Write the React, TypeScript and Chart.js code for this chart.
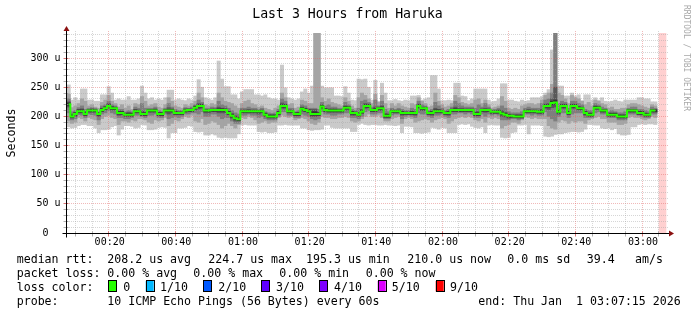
import React, { useEffect, useRef } from "react";
import { Chart, registerables } from "chart.js";

Chart.register(...registerables);

// ---------- data (microseconds), one column per minute ----------
const TITLE = "Last 3 Hours from Haruka";
const Y_TITLE = "Seconds";
const WATERMARK = "RRDTOOL / TOBI OETIKER";

const X_MIN = 7.5; // minutes after 00:00 at left edge
const X_MAX = 187.5;
const FIRST_MINUTE = 8;
const Y_MAX = 343;
const BAND_START = 185; // pink "unknown" band
const BAND_END = 187.3;

const med = [
  221,200,204,209,209,204,210,210,210,204,
  211,214,218,214,214,206,206,203,203,203,
  209,209,204,204,210,210,210,204,204,210,
  210,210,206,206,206,210,211,211,215,218,
  218,210,210,211,211,211,211,211,206,201,
  197,195,209,209,209,209,209,209,209,203,
  200,200,200,206,218,218,209,209,204,204,
  213,211,209,204,204,204,217,211,210,210,
  210,210,210,215,215,206,206,203,208,218,
  218,211,211,214,214,201,201,209,209,209,
  206,206,206,206,206,218,214,214,206,206,
  209,209,209,206,206,211,211,211,211,211,
  211,211,204,204,211,211,211,208,208,208,
  205,203,201,201,200,200,200,209,209,209,
  209,208,208,218,218,223,224,208,218,218,
  206,218,218,214,214,206,203,203,215,215,
  210,210,203,203,203,200,200,200,210,210,
  210,206,206,203,203,210,210,
];

const p1 = [
  182,180,181,184,186,186,184,184,180,172,
  177,177,178,182,184,168,178,184,184,183,
  180,181,186,185,177,177,178,181,182,181,
  163,172,172,180,180,181,184,183,174,173,
  174,168,168,170,168,164,163,164,163,163,
  163,170,185,186,185,185,185,174,173,174,
  172,172,173,185,185,186,185,185,185,185,
  180,180,177,176,177,177,178,185,185,181,
  180,180,180,180,180,174,174,186,188,186,
  185,186,186,185,185,186,185,185,184,185,
  172,183,183,182,172,172,171,172,173,181,
  180,178,181,180,172,172,172,186,187,186,
  187,183,181,180,182,172,185,186,185,185,
  164,163,164,172,173,185,185,186,170,185,
  185,185,184,166,165,166,169,170,170,172,
  173,174,174,173,174,178,186,186,185,185,
  180,179,180,177,179,170,168,168,169,182,
  182,186,187,186,187,187,186,
];

const p2 = [
  192,188,190,198,196,192,198,196,194,186,
  196,200,202,198,196,186,192,192,190,194,
  192,196,196,194,190,188,194,192,194,198,
  184,188,194,192,196,200,198,202,192,190,
  196,186,188,192,190,186,180,184,188,184,
  180,186,198,196,200,198,194,188,190,192,
  188,190,190,198,202,200,198,200,194,196,
  198,196,192,188,186,190,200,198,198,196,
  196,198,198,200,198,192,190,192,196,200,
  204,200,200,202,198,192,192,196,198,200,
  188,196,198,196,190,192,194,196,194,190,
  194,196,198,196,188,192,196,198,200,198,
  200,198,194,192,196,190,198,196,198,196,
  180,184,186,190,190,188,194,200,198,196,
  198,196,196,196,184,180,178,190,194,192,
  188,192,190,192,192,188,194,196,198,200,
  196,196,190,190,190,186,186,188,198,200,
  198,198,196,194,196,200,198,
];

const p3 = [
  206,194,196,203,202,198,204,203,202,194,
  204,206,210,206,204,198,198,196,196,198,
  202,202,200,198,202,202,204,198,198,204,
  196,198,200,198,200,204,204,206,206,204,
  208,200,200,204,204,200,196,198,198,192,
  188,188,202,202,204,202,202,198,200,196,
  194,194,194,200,208,208,202,202,198,198,
  204,202,200,196,194,196,208,204,204,202,
  202,204,204,206,206,198,198,196,200,208,
  210,204,204,206,206,196,196,202,204,204,
  196,200,202,200,198,206,204,204,200,198,
  202,202,204,200,198,204,204,206,206,204,
  206,204,198,198,204,200,204,202,204,202,
  194,194,194,196,196,194,196,204,204,202,
  204,202,202,208,200,196,192,200,206,206,
  198,204,206,206,206,198,198,198,206,208,
  204,204,198,198,198,194,194,194,204,204,
  204,202,200,198,198,204,204,
];

const p4 = [
  216,197,200,206,206,201,207,207,207,200,
  208,211,214,211,211,202,203,200,200,200,
  206,206,202,201,207,207,207,201,201,207,
  204,206,203,203,203,207,208,208,211,213,
  214,206,206,208,208,206,206,206,203,197,
  192,192,206,206,206,206,206,204,206,200,
  197,197,197,203,214,214,206,206,201,201,
  209,208,206,200,200,201,213,208,207,207,
  207,207,207,211,211,202,202,200,205,214,
  215,208,208,210,210,198,198,206,206,206,
  202,203,203,203,202,214,210,210,203,202,
  206,206,206,203,202,208,208,208,208,208,
  208,208,201,201,208,207,208,205,205,205,
  200,199,197,198,198,197,197,206,206,206,
  206,205,205,214,212,215,216,204,214,214,
  203,214,214,211,211,202,200,200,212,212,
  207,207,200,200,200,197,197,197,207,207,
  207,203,203,200,200,207,207,
];

const p5 = [
  219,198,202,207,207,202,208,208,208,202,
  209,212,216,212,212,204,204,201,201,201,
  207,207,202,202,208,208,208,202,202,208,
  208,208,204,204,204,208,209,209,213,216,
  216,208,208,209,209,209,209,209,204,199,
  195,193,207,207,207,207,207,207,207,201,
  198,198,198,204,216,216,207,207,202,202,
  211,209,207,202,202,202,215,209,208,208,
  208,208,208,213,213,204,204,201,206,216,
  216,209,209,212,212,199,199,207,207,207,
  204,204,204,204,204,216,212,212,204,204,
  207,207,207,204,204,209,209,209,209,209,
  209,209,202,202,209,209,209,206,206,206,
  203,201,199,199,198,198,198,207,207,207,
  207,206,206,216,216,220,221,206,216,216,
  204,216,216,212,212,204,201,201,213,213,
  208,208,201,201,201,198,198,198,208,208,
  208,204,204,201,201,208,208,
];

const p6 = [
  223,202,206,211,211,206,211,212,211,206,
  213,216,220,216,215,208,208,205,205,205,
  211,210,206,206,211,211,212,206,206,211,
  212,212,208,207,207,211,212,212,217,220,
  220,211,211,212,212,213,213,212,208,203,
  199,197,210,210,210,210,210,210,210,205,
  202,202,202,208,220,220,210,210,206,206,
  215,213,211,208,208,206,219,213,212,212,
  212,211,211,217,216,208,207,205,210,220,
  220,212,213,215,216,203,203,210,210,210,
  208,207,207,208,207,220,215,215,207,208,
  211,211,210,207,208,212,213,212,212,212,
  212,212,206,206,212,212,212,209,209,210,
  207,205,203,202,202,202,202,210,210,210,
  210,209,210,220,220,226,228,210,220,220,
  208,220,220,216,215,208,205,205,217,216,
  211,211,205,205,205,202,202,202,211,211,
  211,208,208,205,204,211,211,
];

const p7 = [
  225,204,207,212,213,208,212,213,212,206,
  214,217,222,217,216,209,209,206,207,206,
  212,211,209,207,212,212,213,207,207,212,
  215,213,209,208,208,213,213,213,218,222,
  221,212,212,213,213,216,214,214,209,205,
  201,199,211,211,212,211,211,210,211,206,
  203,203,203,209,223,221,211,211,206,207,
  216,214,212,212,212,207,220,214,213,213,
  213,212,212,218,217,209,208,207,212,222,
  221,213,216,216,218,205,204,211,210,211,
  209,208,208,209,208,221,216,216,208,209,
  214,212,211,208,209,213,216,214,214,213,
  213,213,208,208,213,214,213,210,210,211,
  210,207,204,203,203,203,203,211,212,211,
  211,210,212,221,222,230,250,212,221,221,
  209,221,221,217,216,209,206,206,218,217,
  212,212,206,206,206,203,203,203,212,212,
  212,209,209,206,205,212,212,
];

const p8 = [
  230,208,210,215,218,212,214,215,214,208,
  218,220,226,220,218,212,212,208,210,208,
  216,214,222,214,214,214,216,210,208,214,
  222,216,212,210,210,215,214,216,220,228,
  224,214,214,216,215,226,220,218,214,210,
  206,204,214,214,216,214,214,212,214,208,
  206,205,206,212,230,226,214,214,208,210,
  220,218,214,214,214,212,224,218,220,216,
  216,214,214,224,220,212,210,214,226,228,
  224,216,228,218,226,212,208,214,212,214,
  212,210,210,214,212,226,220,218,210,212,
  224,218,214,210,212,216,226,222,218,216,
  216,216,214,220,216,222,216,212,212,214,
  218,214,208,206,206,206,208,214,216,214,
  214,214,222,228,230,240,360,222,226,224,
  214,226,226,222,220,212,210,210,222,220,
  216,214,208,210,208,206,206,208,214,216,
  216,212,212,210,208,216,214,
];

const p9 = [
  238,215,218,222,230,226,218,220,216,214,
  224,228,236,226,222,216,220,214,218,212,
  222,220,234,226,218,220,222,216,214,220,
  232,226,218,216,214,220,218,222,226,240,
  232,220,218,222,220,240,232,226,224,222,
  218,214,222,226,228,222,220,216,218,214,
  212,210,214,218,240,232,220,222,214,216,
  228,226,222,222,360,360,232,226,230,224,
  222,220,218,232,226,218,214,232,240,236,
  230,222,238,224,236,222,214,222,218,222,
  218,216,214,222,220,232,226,222,216,218,
  240,226,220,216,218,222,236,232,224,222,
  220,222,228,230,222,228,220,214,216,218,
  234,226,214,212,214,212,218,220,222,222,
  220,222,228,236,240,255,360,240,236,230,
  222,236,232,230,226,220,224,218,228,226,
  222,220,214,216,212,212,214,214,220,222,
  222,220,218,216,214,220,218,
];

const p10 = [
  254,228,232,228,247,247,228,228,226,226,
  237,237,251,240,228,230,228,228,234,228,
  228,230,252,240,230,232,228,230,228,232,
  245,245,228,230,228,227,230,228,235,263,
  250,232,230,228,232,295,264,251,251,237,
  237,230,242,246,246,246,237,237,235,237,
  232,230,230,228,288,249,232,230,228,230,
  242,247,240,252,360,360,252,249,249,249,
  235,235,234,251,240,228,227,264,263,264,
  250,228,262,226,257,240,227,227,229,227,
  226,228,227,235,235,236,228,230,232,270,
  270,247,227,227,228,227,257,257,235,234,
  227,230,247,247,247,247,228,225,226,230,
  256,256,228,228,226,225,228,226,227,232,
  232,232,234,240,246,314,360,252,252,235,
  235,240,235,237,227,237,237,228,232,228,
  232,226,225,226,228,226,225,228,228,228,
  228,232,232,230,230,225,225,
];

const minutes = med.map((_, i) => FIRST_MINUTE + i);

const yMajorTicks = [0, 50, 100, 150, 200, 250, 300];
const yTickLabels = ["0  ", "50 u", "100 u", "150 u", "200 u", "250 u", "300 u"];
const xMajorTicks = [20, 40, 60, 80, 100, 120, 140, 160, 180];
const xTickLabels = ["00:20", "00:40", "01:00", "01:20", "01:40", "02:00", "02:20", "02:40", "03:00"];

const STAT_LINE1: [number, string][] = [
  [16.7, "median rtt:"],
  [107.3, "208.2 us avg"],
  [208.3, "224.7 us max"],
  [306, "195.3 us min"],
  [407.3, "210.0 us now"],
  [507.3, "0.0 ms sd"],
  [586.7, "39.4"],
  [635, "am/s"],
];
const STAT_LINE2: [number, string][] = [
  [16.7, "packet loss:"],
  [107.3, "0.00 % avg"],
  [193.3, "0.00 % max"],
  [279.3, "0.00 % min"],
  [365.7, "0.00 % now"],
];
const lossLabels = ["0", "1/10", "2/10", "3/10", "4/10", "5/10", "9/10"];
const lossColors = ["#26ff00", "#00b8ff", "#0059ff", "#5e00ff", "#7e00ff", "#dd00ff", "#ff0000"];
const lossBoxX = [108.3, 145.7, 203.3, 261, 319.3, 377.7, 435.7];
const lossLabelX = [123.3, 160, 218.3, 276, 334, 391.7, 450];
const STAT_LINE4: [number, string][] = [
  [16.7, "probe:"],
  [107.3, "10 ICMP Echo Pings (56 Bytes) every 60s"],
  [478.3, "end: Thu Jan  1 03:07:15 2026"],
];

const smokeBands = [
  { lo: p1, hi: p10, color: "#cacaca" },
  { lo: p2, hi: p9, color: "#a4a4a4" },
  { lo: p3, hi: p8, color: "#7e7e7e" },
  { lo: p4, hi: p7, color: "#585858" },
  { lo: p5, hi: p6, color: "#323232" },
];

const FONT = "'DejaVu Sans Mono', monospace";
const GRID = "rgba(165,165,165,0.45)";
const MGRID = "rgba(225,100,100,0.45)";
const ARROW = "#8b1010";

function drawGrid(chart: any) {
  const { ctx, chartArea: a } = chart;
  const xs = chart.scales.x;
  const ys = chart.scales.y;
  ctx.save();
  ctx.lineWidth = 1;
  ctx.setLineDash([1, 1]);
  for (let v = 10; v < Y_MAX; v += 10) {
    const y = Math.floor(ys.getPixelForValue(v)) + 0.5;
    ctx.strokeStyle = v % 50 === 0 ? MGRID : GRID;
    ctx.beginPath();
    ctx.moveTo(a.left, y);
    ctx.lineTo(a.right + 1, y);
    ctx.stroke();
  }
  for (let t = 10; t < X_MAX; t += 5) {
    const x = Math.floor(xs.getPixelForValue(t)) + 0.5;
    ctx.strokeStyle = t % 20 === 0 ? MGRID : GRID;
    ctx.beginPath();
    ctx.moveTo(x, a.top - 2);
    ctx.lineTo(x, a.bottom);
    ctx.stroke();
  }
  ctx.restore();
}

function drawFrame(chart: any) {
  const { ctx, chartArea: a } = chart;
  const xs = chart.scales.x;
  const ys = chart.scales.y;
  const ax = Math.round(a.left) - 0.5;
  const ay = Math.round(a.bottom) + 0.5;
  ctx.save();
  ctx.lineWidth = 1;
  // tick marks
  for (let v = 0; v < Y_MAX; v += 10) {
    const y = Math.floor(ys.getPixelForValue(v)) + 0.5;
    ctx.strokeStyle = v % 50 === 0 ? "rgba(200,60,60,0.7)" : "rgba(140,140,140,0.7)";
    ctx.beginPath();
    ctx.moveTo(ax - 3, y);
    ctx.lineTo(ax + 2, y);
    ctx.stroke();
  }
  for (let t = 10; t < X_MAX; t += 5) {
    const x = Math.floor(xs.getPixelForValue(t)) + 0.5;
    ctx.strokeStyle = t % 20 === 0 ? "rgba(200,60,60,0.7)" : "rgba(140,140,140,0.7)";
    ctx.beginPath();
    ctx.moveTo(x, ay - 2);
    ctx.lineTo(x, ay + 3);
    ctx.stroke();
  }
  // axes
  ctx.strokeStyle = "#000";
  ctx.beginPath();
  ctx.moveTo(ax - 4, ay);
  ctx.lineTo(a.right + 2, ay);
  ctx.stroke();
  ctx.beginPath();
  ctx.moveTo(ax, ay + 4);
  ctx.lineTo(ax, a.top - 2);
  ctx.stroke();
  ctx.fillStyle = ARROW;
  ctx.beginPath();
  ctx.moveTo(ax - 3, a.top - 2);
  ctx.lineTo(ax + 3, a.top - 2);
  ctx.lineTo(ax, a.top - 7);
  ctx.closePath();
  ctx.fill();
  ctx.beginPath();
  ctx.moveTo(a.right + 2, ay - 3);
  ctx.lineTo(a.right + 2, ay + 3);
  ctx.lineTo(a.right + 7, ay);
  ctx.closePath();
  ctx.fill();

  // tick labels
  ctx.fillStyle = "#000";
  ctx.font = `10px ${FONT}`;
  ctx.textAlign = "right";
  ctx.textBaseline = "middle";
  yMajorTicks.forEach((v, i) => {
    ctx.fillText(yTickLabels[i], ax - 6, ys.getPixelForValue(v));
  });
  ctx.textAlign = "center";
  ctx.textBaseline = "alphabetic";
  xMajorTicks.forEach((t, i) => {
    ctx.fillText(xTickLabels[i], xs.getPixelForValue(t) + 1, 245);
  });

  // title
  ctx.font = `13.2px ${FONT}`;
  ctx.fillText(TITLE, 347.5, 18.3);

  // y title
  ctx.save();
  ctx.font = `11.6px ${FONT}`;
  ctx.translate(15, 133);
  ctx.rotate(-Math.PI / 2);
  ctx.textAlign = "center";
  ctx.fillText(Y_TITLE, 0, 0);
  ctx.restore();

  // watermark
  ctx.save();
  ctx.font = `8px ${FONT}`;
  ctx.fillStyle = "#a8a8a8";
  ctx.translate(683.5, 5);
  ctx.rotate(Math.PI / 2);
  ctx.textAlign = "left";
  ctx.fillText(WATERMARK, 0, 0);
  ctx.restore();

  // legend
  ctx.font = `11.6px ${FONT}`;
  ctx.textAlign = "left";
  ctx.fillStyle = "#000";
  STAT_LINE1.forEach(([x, s]) => ctx.fillText(s, x, 262.7));
  STAT_LINE2.forEach(([x, s]) => ctx.fillText(s, x, 276.8));
  ctx.fillText("loss color:", 16.7, 290.9);
  lossLabels.forEach((lab, i) => {
    ctx.fillStyle = lossColors[i];
    ctx.fillRect(lossBoxX[i], 281, 8, 10.5);
    ctx.strokeStyle = "#000";
    ctx.strokeRect(Math.round(lossBoxX[i]) + 0.5, 280.5, 8, 11);
    ctx.fillStyle = "#000";
    ctx.fillText(lab, lossLabelX[i], 290.9);
  });
  STAT_LINE4.forEach(([x, s]) => ctx.fillText(s, x, 305));
  ctx.restore();
}

const rrdPlugin = {
  id: "rrdLook",
  beforeDatasetsDraw(chart: any) {
    const { ctx, chartArea: a } = chart;
    const xs = chart.scales.x;
    const x1 = xs.getPixelForValue(BAND_START);
    const x2 = xs.getPixelForValue(BAND_END);
    ctx.save();
    ctx.fillStyle = "#ffd0d0";
    ctx.fillRect(x1, a.top, x2 - x1, a.bottom - a.top);
    ctx.restore();
  },
  afterDatasetDraw(chart: any, args: any) {
    if (args.index === smokeBands.length - 1) drawGrid(chart);
  },
  afterDraw(chart: any) {
    drawFrame(chart);
  },
};

export default function App() {
  const ref = useRef<HTMLCanvasElement | null>(null);
  useEffect(() => {
    if (!ref.current) return;
    const datasets: any[] = smokeBands.map((b, i) => ({
      type: "bar",
      data: b.lo.map((v, k) => ({ x: minutes[k], y: [v, b.hi[k]] })),
      backgroundColor: b.color,
      borderWidth: 0,
      grouped: false,
      barPercentage: 1,
      categoryPercentage: 1,
      order: smokeBands.length - i,
    }));
    datasets.push({
      type: "line",
      data: med.map((v, k) => ({ x: minutes[k], y: v })),
      borderColor: "#26ff00",
      borderWidth: 2,
      pointRadius: 0,
      stepped: "middle",
      fill: false,
      order: 0,
    });
    const chart = new Chart(ref.current, {
      type: "bar",
      data: { datasets },
      options: {
        responsive: false,
        devicePixelRatio: 1,
        animation: false,
        events: [],
        layout: { padding: { left: 67, right: 30, top: 33, bottom: 82 } },
        plugins: { legend: { display: false }, tooltip: { enabled: false } },
        scales: {
          x: { type: "linear", display: false, min: X_MIN, max: X_MAX, offset: false },
          y: { type: "linear", display: false, min: 0, max: Y_MAX },
        },
      } as any,
      plugins: [rrdPlugin],
    });
    return () => chart.destroy();
  }, []);
  return (
    <div style={{ position: "absolute", left: 0, top: 0, width: 697, height: 315, background: "#fff" }}>
      <canvas ref={ref} width={697} height={315} style={{ display: "block", width: 697, height: 315 }} />
    </div>
  );
}
